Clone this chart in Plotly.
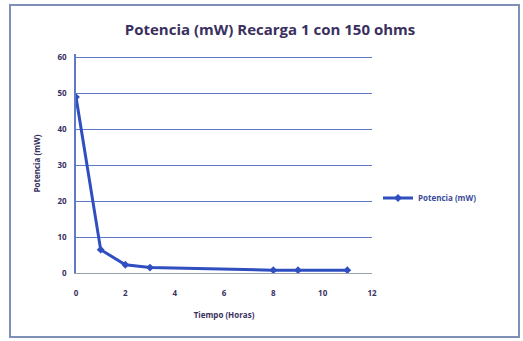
import plotly.graph_objects as go

tiempo = [0, 1, 2, 3, 8, 9, 11]
potencia = [49, 6.5, 2.3, 1.5, 0.8, 0.8, 0.8]
x_ticks = [0, 2, 4, 6, 8, 10, 12]
y_ticks = [0, 10, 20, 30, 40, 50, 60]

line_color = "#2f4fc0"
grid_color = "#5f78c8"
text_color = "#3a3060"

fig = go.Figure()
fig.add_trace(go.Scatter(
    x=tiempo, y=potencia, mode="lines+markers", name="<b>Potencia (mW)</b>",
    line=dict(color=line_color, width=3),
    marker=dict(symbol="diamond", size=6, color=line_color),
))

W, H = 523, 341
l, r, t, b = 76, 151, 54, 68
pw, ph = W - l - r, H - t - b

def px(x):
    return (x - l) / pw

def py(y):
    return (H - b - y) / ph

fig.update_layout(
    width=W, height=H,
    margin=dict(l=l, r=r, t=t, b=b),
    paper_bgcolor="white", plot_bgcolor="white",
    font=dict(family="Open Sans", color=text_color, size=8),
    title=dict(text="<b>Potencia (mW) Recarga 1 con 150 ohms</b>",
               xref="container", yref="container",
               x=270 / W, xanchor="center", y=1 - 30 / H, yanchor="middle",
               font=dict(size=15, color=text_color, family="Open Sans")),
    showlegend=True,
    legend=dict(x=px(378), y=py(198), xanchor="left", yanchor="middle",
                font=dict(size=8, color="#3a4a9a"), bgcolor="rgba(0,0,0,0)",
                itemwidth=30),
    xaxis=dict(range=[0, 12], tickvals=x_ticks, ticktext=[f"<b>{v}</b>" for v in x_ticks],
               showgrid=False, zeroline=False,
               showline=True, linecolor="#9aa0b0", linewidth=1,
               ticks="", ticklabelstandoff=12,
               tickfont=dict(size=8, color=text_color),
               title=dict(text="<b>Tiempo (Horas)</b>", font=dict(size=8, color=text_color), standoff=15)),
    yaxis=dict(range=[0, 61], tickvals=y_ticks, ticktext=[f"<b>{v}</b>" for v in y_ticks],
               showgrid=True, gridcolor=grid_color,
               gridwidth=1, zeroline=False, showline=True, linecolor=grid_color,
               linewidth=1.5, ticks="", ticklabelstandoff=6,
               tickfont=dict(size=8, color=text_color),
               title=dict(text="<b>Potencia (mW)</b>", font=dict(size=8, color=text_color), standoff=16)),
    shapes=[dict(type="rect", xref="paper", yref="paper",
                 x0=px(10), x1=px(519), y0=py(337), y1=py(5),
                 line=dict(color="#7f8fb8", width=2), fillcolor="rgba(0,0,0,0)")],
)

fig.write_html("out.html")
